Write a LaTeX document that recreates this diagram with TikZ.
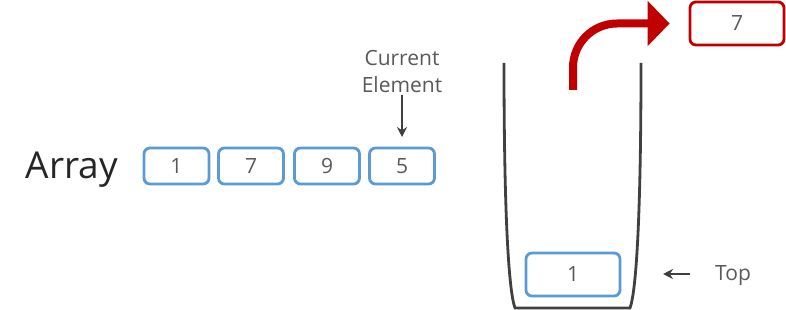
\documentclass[tikz,border=0pt]{standalone}
\usepackage{fontspec}
\setmainfont{Open Sans}
\usetikzlibrary{arrows.meta,positioning}
\definecolor{cellblue}{HTML}{5B9BD5}
\definecolor{popred}{HTML}{C00000}
\definecolor{txtgray}{HTML}{595959}
\definecolor{wallgray}{HTML}{404040}

\begin{document}
\begin{tikzpicture}[x=1pt, y=-1pt,
  cell/.style={draw=cellblue, line width=2.8pt, rounded corners=6pt,
    minimum width=65pt, minimum height=36pt, inner sep=0pt,
    text=txtgray, font=\fontsize{21}{24}\selectfont},
  popcell/.style={cell, draw=popred},
  stackcell/.style={cell, minimum width=94pt, minimum height=43pt},
  note/.style={text=txtgray, font=\fontsize{21}{27}\selectfont, align=center},
  pointer/.style={-{Stealth[length=10pt,width=10pt]}, line width=1.6pt, wallgray},
  wall/.style={wallgray, line width=2.8pt}]
  \useasboundingbox (0,0) rectangle (786,310);

  % the array and its cells
  \node[text=black!85, font=\fontsize{37}{42}\selectfont] (arr) at (72,170) {Array};
  \node[cell] (a1) at (176.5,166) {1};
  \node[cell] (a2) at (251,166) {7};
  \node[cell] (a3) at (327,166) {9};
  \node[cell] (a4) at (402,166) {5};

  % current element pointer
  \node[note] (cur) at (402,72) {Current\\Element};
  \coordinate (curtip) at (402,137);
  \draw[pointer] (cur.south) ++(0,-2) coordinate (curtail) (curtail) -- (curtip);

  % the stack (cup)
  \draw[wall] (504,63) .. controls (504,220) and (509,292) .. (515,308)
    -- (630,308) .. controls (636,292) and (641,220) .. (641,63);
  \node[stackcell] (s1) at (573,274.5) {1};

  % top pointer
  \node[note] (top) at (733,276) {Top};
  \coordinate (toptail) at (690,274);
  \coordinate (toptip) at (663,274);
  \draw[pointer] (toptail) -- (toptip);

  % popped element
  \node[popcell, minimum width=94pt, minimum height=43pt] (p7) at (737,23.5) {7};
  \coordinate (popstart) at (573,90);
  \draw[popred, line width=8pt, rounded corners=44pt,
    -{Triangle[length=22pt,width=44pt]}, shorten >=19pt]
    (popstart) |- (p7.west);
\end{tikzpicture}
\end{document}
